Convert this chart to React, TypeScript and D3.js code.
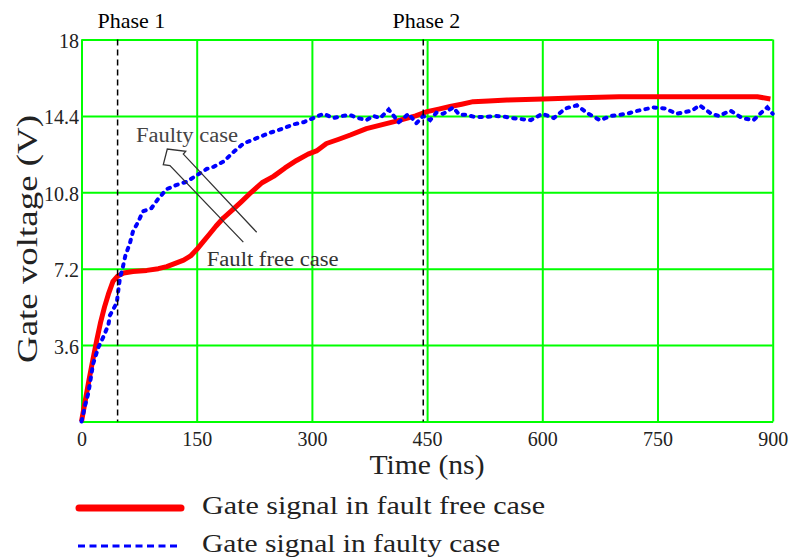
import React, { useEffect, useRef } from "react";
import * as d3 from "d3";

// axis ticks
const xTicks = [0, 150, 300, 450, 600, 750, 900];
const yTicks = [0, 3.6, 7.2, 10.8, 14.4, 18];
const yTickLabels = ["", "3.6", "7.2", "10.8", "14.4", "18"];

// gate signal, fault free case (ns, V)
const freeT = [0, 5, 10, 15, 20, 25, 30, 35, 41, 47, 55, 67, 85, 100, 111, 122, 133, 142, 150, 158, 166, 175, 185, 197, 208, 221, 235, 250, 265, 280, 295, 306, 319, 335, 350, 371, 393, 415, 435, 450, 465, 480, 495, 510, 530, 554, 601, 650, 700, 750, 800, 848, 880, 897];
const freeV = [0, 1.0, 2.0, 2.95, 3.85, 4.7, 5.4, 6.0, 6.6, 6.85, 7.0, 7.07, 7.12, 7.2, 7.3, 7.45, 7.6, 7.8, 8.1, 8.45, 8.8, 9.2, 9.6, 9.98, 10.35, 10.8, 11.25, 11.55, 11.95, 12.3, 12.6, 12.75, 13.1, 13.3, 13.5, 13.8, 14.0, 14.2, 14.4, 14.6, 14.72, 14.84, 14.95, 15.07, 15.1, 15.15, 15.2, 15.25, 15.3, 15.3, 15.3, 15.3, 15.3, 15.2];

// gate signal, faulty case (ns, V)
const faultyT = [0, 5, 9, 15, 22, 28, 35, 37, 46, 48, 50, 54, 57, 63, 67, 74, 80, 91, 100, 111, 124, 137, 150, 163, 172, 185, 198, 211, 228, 245, 258, 276, 289, 302, 315, 328, 340, 349, 360, 371, 380, 389, 400, 413, 426, 436, 445, 454, 462, 471, 484, 492, 501, 512, 527, 540, 553, 560, 585, 600, 615, 630, 645, 660, 675, 690, 710, 725, 745, 760, 775, 795, 805, 820, 830, 845, 860, 875, 885, 893, 900];
const faultyV = [0, 0.8, 1.35, 2.7, 3.5, 3.95, 4.55, 5.0, 5.6, 6.2, 6.75, 7.3, 7.8, 8.4, 8.95, 9.42, 9.9, 10.05, 10.5, 10.95, 11.15, 11.3, 11.6, 11.9, 12.0, 12.25, 12.7, 13.1, 13.35, 13.6, 13.75, 14.0, 14.1, 14.3, 14.5, 14.3, 14.4, 14.45, 14.3, 14.2, 14.4, 14.3, 14.7, 14.1, 14.5, 14.05, 14.4, 14.2, 14.55, 14.5, 14.8, 14.45, 14.45, 14.35, 14.35, 14.4, 14.35, 14.3, 14.2, 14.5, 14.3, 14.75, 14.9, 14.5, 14.2, 14.4, 14.5, 14.65, 14.8, 14.75, 14.5, 14.65, 14.9, 14.5, 14.4, 14.65, 14.3, 14.2, 14.55, 14.8, 14.5];

// phase boundaries (ns)
const phaseT = [47, 445];
const phaseLabels = ["Phase 1", "Phase 2"];
const phaseLabelT = [65, 449];

// annotation arrow outline (ns, V)
const arrowT = [210.7, 115.2, 106.5, 111.7, 135.7, 132.6, 228.1];
const arrowV = [8.45, 12.06, 12.1, 12.84, 12.73, 12.6, 8.92];

const legendLabels = ["Gate signal in fault free case", "Gate signal in faulty case"];

const serif = "'Liberation Serif', 'Times New Roman', Times, serif";

export default function App() {
  const ref = useRef<SVGSVGElement>(null);

  useEffect(() => {
    const svg = d3.select(ref.current);
    svg.selectAll("*").remove();
    const x = d3.scaleLinear().domain([0, 900]).range([81.5, 772.7]);
    const y = d3.scaleLinear().domain([0, 18]).range([421.5, 39.5]);
    const plotW = x(900) - x(0);
    const plotH = y(0) - y(18);

    // grid via axes
    const gx = svg.append("g").attr("transform", `translate(0,${y(0)})`)
      .call(d3.axisBottom(x).tickValues(xTicks).tickSize(-plotH).tickSizeOuter(0).tickPadding(10.5));
    const gy = svg.append("g").attr("transform", `translate(${x(0)},0)`)
      .call(d3.axisLeft(y).tickValues(yTicks).tickSize(-plotW).tickSizeOuter(0).tickPadding(2.5)
        .tickFormat((d, i) => yTickLabels[i]));
    [gx, gy].forEach(g => {
      g.attr("font-family", serif).attr("font-size", 20);
      g.select(".domain").attr("stroke", "#00ff00").attr("stroke-width", 2);
      g.selectAll(".tick line").attr("stroke", "#00ff00").attr("stroke-width", 2);
      g.selectAll(".tick text").attr("fill", "#222");
    });
    gy.selectAll(".tick text").attr("dy", "0.4em");

    const line = d3.line<number>().x(d => x(d[0])).y(d => y(d[1]));
    const freePts: any = freeT.map((t, i) => [t, freeV[i]]);
    const faultyPts: any = faultyT.map((t, i) => [t, faultyV[i]]);

    svg.append("path").attr("d", line(freePts)).attr("fill", "none").attr("stroke", "#ff0000")
      .attr("stroke-width", 5).attr("stroke-linejoin", "round");
    svg.append("path").attr("d", line(faultyPts)).attr("fill", "none").attr("stroke", "#0000ff")
      .attr("stroke-width", 4).attr("stroke-dasharray", "2.5 6").attr("stroke-linecap", "round");

    // phase markers
    svg.selectAll(".phase").data(phaseT).join("line").attr("class", "phase")
      .attr("x1", d => x(d)).attr("x2", d => x(d)).attr("y1", y(18)).attr("y2", y(0))
      .attr("stroke", "#000").attr("stroke-width", 1.5).attr("stroke-dasharray", "6 4");
    svg.selectAll(".phaseLabel").data(phaseLabels).join("text").attr("class", "phaseLabel")
      .attr("x", (d, i) => x(phaseLabelT[i])).attr("y", y(18.54)).attr("text-anchor", "middle")
      .attr("font-size", 22).attr("font-family", serif).attr("fill", "#000").text(d => d);

    // annotation
    const arrowPts: any = arrowT.map((t, i) => [t, arrowV[i]]);
    svg.append("path").attr("d", line(arrowPts)).attr("fill", "none").attr("stroke", "#333").attr("stroke-width", 1.3);
    svg.append("text").attr("x", x(71)).attr("y", y(13.18)).attr("font-size", 20).attr("fill", "#444")
      .attr("font-family", serif).attr("textLength", 102).attr("lengthAdjust", "spacingAndGlyphs").text("Faulty case");
    svg.append("text").attr("x", x(163)).attr("y", y(7.35)).attr("font-size", 20).attr("fill", "#333")
      .attr("font-family", serif).attr("textLength", 132).attr("lengthAdjust", "spacingAndGlyphs").text("Fault free case");

    // axis titles
    svg.append("text").attr("x", 427).attr("y", 474).attr("text-anchor", "middle").attr("font-size", 28)
      .attr("font-family", serif).attr("fill", "#222").attr("textLength", 115)
      .attr("lengthAdjust", "spacingAndGlyphs").text("Time (ns)");
    svg.append("text").attr("transform", "translate(37,239) rotate(-90)").attr("text-anchor", "middle")
      .attr("font-size", 30).attr("font-family", serif).attr("fill", "#222")
      .attr("textLength", 248).attr("lengthAdjust", "spacingAndGlyphs").text("Gate voltage (V)");

    // legend
    svg.append("line").attr("x1", 79).attr("x2", 181).attr("y1", 508).attr("y2", 508)
      .attr("stroke", "#ff0000").attr("stroke-width", 7).attr("stroke-linecap", "round");
    svg.append("line").attr("x1", 78).attr("x2", 180).attr("y1", 546).attr("y2", 546)
      .attr("stroke", "#0000ff").attr("stroke-width", 3).attr("stroke-dasharray", "7 4.5");
    svg.selectAll(".legendText").data(legendLabels).join("text").attr("class", "legendText")
      .attr("x", 202).attr("y", (d, i) => 514 + i * 38).attr("font-size", 26)
      .attr("font-family", serif).attr("fill", "#222")
      .attr("textLength", (d, i) => (i === 0 ? 343 : 298)).attr("lengthAdjust", "spacingAndGlyphs").text(d => d);
  }, []);

  return (
    <svg ref={ref} width={790} height={558}
      style={{ position: "absolute", left: 0, top: 0, background: "#fff" }} />
  );
}
